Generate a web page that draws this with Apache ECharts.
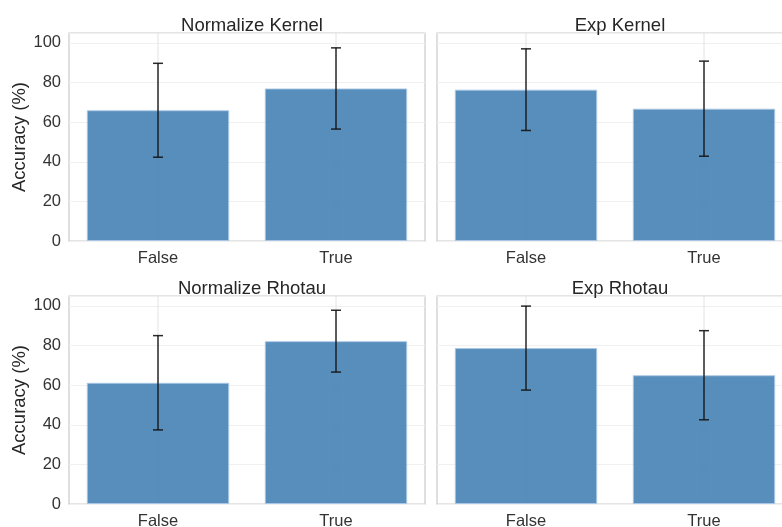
<!DOCTYPE html>
<html>
<head>
<meta charset="utf-8">
<script src="https://cdn.jsdelivr.net/npm/echarts@6/dist/echarts.min.js"></script>
<style>
html,body{margin:0;padding:0;background:#fff;}
#chart{width:782px;height:527px;}
</style>
</head>
<body>
<div id="chart"></div>
<script>
// ---- data ----
const categories = ['False', 'True'];
const panelTitles = ['Normalize Kernel', 'Exp Kernel', 'Normalize Rhotau', 'Exp Rhotau'];
const normKernelMean = [66.0, 77.0];
const normKernelErr  = [23.7, 20.5];
const expKernelMean  = [76.4, 66.8];
const expKernelErr   = [20.6, 24.0];
const normRhotauMean = [61.2, 82.2];
const normRhotauErr  = [23.8, 15.6];
const expRhotauMean  = [78.7, 65.0];
const expRhotauErr   = [21.2, 22.5];
const yTicks = [0, 20, 40, 60, 80, 100];
const yLabel = 'Accuracy (%)';

const means = [normKernelMean, expKernelMean, normRhotauMean, expRhotauMean];
const errs  = [normKernelErr, expKernelErr, normRhotauErr, expRhotauErr];

const FONT = '"Liberation Sans", Arial, sans-serif';
const YMAX = 105;

const gridPos = [
  {left: 69,  top: 33,  width: 356, height: 208},
  {left: 437, top: 33,  width: 356, height: 208},
  {left: 69,  top: 296, width: 356, height: 208},
  {left: 437, top: 296, width: 356, height: 208}
];

const option = {
  backgroundColor: '#ffffff',
  animation: false,
  title: [],
  grid: [],
  xAxis: [],
  yAxis: [],
  series: []
};

gridPos.forEach((g, i) => {
  option.grid.push(Object.assign({show: true, borderColor: '#cccccc', borderWidth: 1.25,
    backgroundColor: 'transparent', outerBoundsMode: 'none', containLabel: false}, g));
  option.title.push({
    text: panelTitles[i],
    left: g.left + 178,
    textAlign: 'center',
    top: g.top - 22,
    textStyle: {fontFamily: FONT, fontSize: 18.5, fontWeight: 'normal', color: '#262626'}
  });
  option.xAxis.push({
    type: 'category', gridIndex: i, data: categories,
    axisLine: {show: false}, axisTick: {show: false},
    axisLabel: {fontFamily: FONT, fontSize: 16.5, color: '#333333', margin: 9},
    splitLine: {show: false}
  });
  const left = (i % 2 === 0);
  option.yAxis.push({
    type: 'value', gridIndex: i, min: 0, max: YMAX, interval: 20,
    axisLine: {show: false}, axisTick: {show: false},
    axisLabel: {show: left, fontFamily: FONT, fontSize: 16.5, color: '#333333', margin: 8,
      formatter: v => (yTicks.indexOf(v) >= 0 ? String(v) : '')},
    splitLine: {show: true, lineStyle: {color: '#f0f0f0', width: 1}},
    name: left ? yLabel : '',
    nameLocation: 'middle', nameGap: 40, nameRotate: 90,
    nameTextStyle: {fontFamily: FONT, fontSize: 18.5, color: '#262626'}
  });
  // vertical grid lines at category centers
  option.series.push({
    type: 'custom', xAxisIndex: i, yAxisIndex: i, z: 1, silent: true,
    data: categories.map((c, k) => [k]),
    renderItem: (params, api) => {
      const k = api.value(0);
      const p0 = api.coord([k, 0]);
      const p1 = api.coord([k, YMAX]);
      return {type: 'line', shape: {x1: p0[0], y1: p0[1], x2: p1[0], y2: p1[1]},
        style: {stroke: '#e2e2e2', lineWidth: 1}};
    }
  });
  option.series.push({
    type: 'bar', xAxisIndex: i, yAxisIndex: i, z: 2, barWidth: '80%',
    data: means[i],
    itemStyle: {color: 'rgba(70,130,180,0.9)', borderColor: 'rgba(170,200,228,0.9)', borderWidth: 1}
  });
  option.series.push({
    type: 'custom', xAxisIndex: i, yAxisIndex: i, z: 3, silent: true,
    data: means[i].map((m, k) => [k, m - errs[i][k], m + errs[i][k]]),
    renderItem: (params, api) => {
      const k = api.value(0);
      const lo = api.coord([k, api.value(1)]);
      const hi = api.coord([k, api.value(2)]);
      const cw = 5;
      const st = {stroke: 'rgba(20,20,20,0.9)', lineWidth: 1.5};
      return {type: 'group', children: [
        {type: 'line', shape: {x1: lo[0], y1: lo[1], x2: hi[0], y2: hi[1]}, style: st},
        {type: 'line', shape: {x1: lo[0] - cw, y1: lo[1], x2: lo[0] + cw, y2: lo[1]}, style: st},
        {type: 'line', shape: {x1: hi[0] - cw, y1: hi[1], x2: hi[0] + cw, y2: hi[1]}, style: st}
      ]};
    }
  });
});

const chart = echarts.init(document.getElementById('chart'), null, {renderer: 'canvas'});
chart.setOption(option);
</script>
</body>
</html>
